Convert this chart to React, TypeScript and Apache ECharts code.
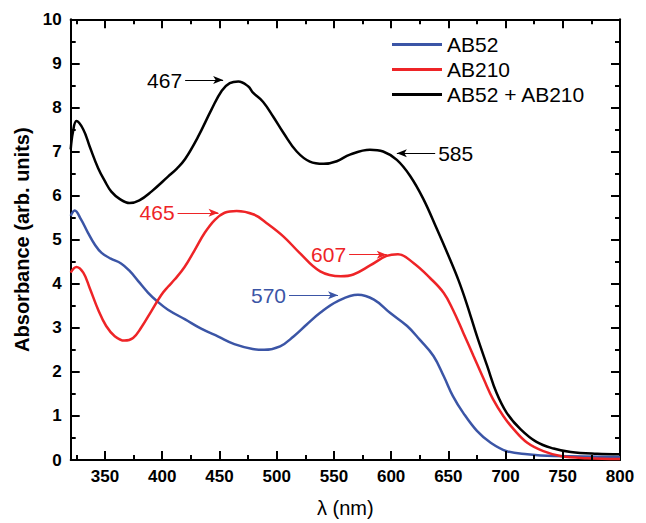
import React, { useEffect, useRef } from "react";
import * as echarts from "echarts";

const seriesNames = ["AB52", "AB210", "AB52 + AB210"];
const seriesColors = ["#3b55a6", "#ee2427", "#000000"];

const blueData: [number, number][] = [
  [320, 5.54], [323.5, 5.66], [329, 5.46], [335, 5.16], [341, 4.89], [347, 4.7], [355, 4.57],
  [364, 4.46], [371.5, 4.29], [379, 4.06], [387.5, 3.8], [396, 3.59], [405, 3.41], [420, 3.19],
  [434, 2.98], [449, 2.8], [463, 2.63], [479, 2.52], [489, 2.5], [503, 2.58], [515, 2.81],
  [526, 3.07], [538, 3.34], [553, 3.6], [571, 3.75], [585, 3.64], [599, 3.34], [614, 3.04],
  [625, 2.73], [637, 2.36], [646, 1.9], [654, 1.45], [663, 1.07], [675, 0.66], [687, 0.39],
  [701, 0.2], [719, 0.13], [742, 0.09], [800, 0.07],
];

const redData: [number, number][] = [
  [320, 4.25], [325, 4.38], [331, 4.25], [336.5, 3.91], [344, 3.41], [351, 3.04], [358.5, 2.81],
  [367, 2.71], [374.5, 2.77], [381.5, 3.0], [390.5, 3.38], [399, 3.74], [405, 3.93], [411, 4.1],
  [419.5, 4.38], [428.5, 4.77], [437, 5.15], [446, 5.45], [454.5, 5.61], [465, 5.65], [480, 5.57],
  [491, 5.38], [506, 5.07], [520, 4.7], [538, 4.28], [556, 4.17], [567, 4.21], [582, 4.42],
  [596, 4.63], [606, 4.67], [619.5, 4.47], [634, 4.13], [646, 3.79], [654, 3.41], [663, 2.89],
  [672, 2.36], [681, 1.83], [689, 1.38], [698, 1.0], [707, 0.7], [719, 0.39], [733, 0.2],
  [748, 0.09], [771, 0.04], [800, 0.02],
];

const blackData: [number, number][] = [
  [320, 7.05], [322, 7.45], [325, 7.69], [331, 7.5], [336.5, 7.12], [344, 6.62], [350, 6.32],
  [355.5, 6.09], [363, 5.92], [371.5, 5.83], [380, 5.89], [390.5, 6.09], [405, 6.43], [413, 6.62],
  [420, 6.83], [431, 7.32], [443, 7.95], [452, 8.38], [459, 8.55], [466.5, 8.59], [475, 8.48],
  [479.5, 8.33], [488, 8.13], [497, 7.79], [506, 7.42], [517.5, 7.0], [529, 6.77], [541, 6.72],
  [552.5, 6.78], [564, 6.93], [581.5, 7.04], [593, 7.0], [605, 6.81], [616.5, 6.45], [628, 5.93],
  [640, 5.24], [651.5, 4.55], [659, 4.07], [666, 3.55], [675, 2.81], [684, 2.13], [692, 1.53],
  [701, 1.07], [713, 0.7], [727, 0.41], [742, 0.26], [757, 0.18], [780, 0.14], [800, 0.13],
];

const xMin = 320;
const xMax = 800;
const yMin = 0;
const yMax = 10;
const xMajorTicks = [350, 400, 450, 500, 550, 600, 650, 700, 750];
const xMinorTicks = [325, 375, 425, 475, 525, 575, 625, 675, 725, 775];
const yMajorTicks = [1, 2, 3, 4, 5, 6, 7, 8, 9];
const yMinorTicks = [0.5, 1.5, 2.5, 3.5, 4.5, 5.5, 6.5, 7.5, 8.5, 9.5];
const xLabelValues = [350, 400, 450, 500, 550, 600, 650, 700, 750, 800];

// annotations: series index, text, tail x, tip x, y
const annoSeries = [2, 2, 1, 1, 0];
const annoText = ["467", "585", "465", "607", "570"];
const annoTailX = [420, 638.5, 413.4, 563.3, 510.8];
const annoTipX = [453.2, 605, 449.2, 596.2, 553.6];
const annoY = [8.62, 6.96, 5.61, 4.66, 3.74];

const FONT = "'Liberation Sans', Arial, Helvetica, sans-serif";
const W = 646;
const H = 523;
const GRID = { left: 70.7, right: 26, top: 19.3, bottom: 62.3 };
const MAJOR_LEN = 9;
const MINOR_LEN = 5;

export default function App() {
  const ref = useRef<HTMLDivElement>(null);
  useEffect(() => {
    if (!ref.current) return;
    const chart = echarts.init(ref.current, undefined, { renderer: "svg" });
    const datas = [blueData, redData, blackData];

    // pixel length -> data length
    const pxPerX = (W - GRID.left - GRID.right) / (xMax - xMin);
    const pxPerY = (H - GRID.top - GRID.bottom) / (yMax - yMin);
    const tickLine = { color: "#000", width: 2, type: "solid" };
    const endNone = { symbol: "none", label: { show: false }, lineStyle: tickLine };
    const tickData: any[] = [];
    const addX = (vals: number[], len: number) => {
      const dy = len / pxPerY;
      vals.forEach((v) => {
        tickData.push([{ coord: [v, yMin], ...endNone }, { coord: [v, yMin + dy], symbol: "none" }]);
        tickData.push([{ coord: [v, yMax], ...endNone }, { coord: [v, yMax - dy], symbol: "none" }]);
      });
    };
    const addY = (vals: number[], len: number) => {
      const dx = len / pxPerX;
      vals.forEach((v) => {
        tickData.push([{ coord: [xMin, v], ...endNone }, { coord: [xMin + dx, v], symbol: "none" }]);
        tickData.push([{ coord: [xMax, v], ...endNone }, { coord: [xMax - dx, v], symbol: "none" }]);
      });
    };
    addX(xMajorTicks, MAJOR_LEN);
    addX(xMinorTicks, MINOR_LEN);
    addY(yMajorTicks, MAJOR_LEN);
    addY(yMinorTicks, MINOR_LEN);

    const xAxes = [
      {
        type: "value",
        min: xMin,
        max: xMax,
        position: "bottom",
        splitLine: { show: false },
        name: "λ (nm)",
        nameLocation: "middle",
        nameGap: 38,
        nameTextStyle: { fontFamily: FONT, fontSize: 20, color: "#000" },
        axisLine: { show: true, onZero: false, lineStyle: { color: "#000", width: 2 } },
        axisTick: { show: false },
        axisLabel: { show: true, customValues: xLabelValues, margin: 8, fontFamily: FONT, fontWeight: "bold", fontSize: 17, color: "#000" },
      },
      {
        type: "value",
        min: xMin,
        max: xMax,
        position: "top",
        splitLine: { show: false },
        axisLine: { show: true, onZero: false, lineStyle: { color: "#000", width: 2 } },
        axisTick: { show: false },
        axisLabel: { show: false },
      },
    ];

    const yAxes = [
      {
        type: "value",
        min: yMin,
        max: yMax,
        interval: 1,
        position: "left",
        splitLine: { show: false },
        name: "Absorbance (arb. units)",
        nameLocation: "middle",
        nameGap: 36,
        nameTextStyle: { fontFamily: FONT, fontSize: 20, fontWeight: "bold", color: "#000" },
        axisLine: { show: true, onZero: false, lineStyle: { color: "#000", width: 2 } },
        axisTick: { show: false },
        axisLabel: { show: true, margin: 9, fontFamily: FONT, fontWeight: "bold", fontSize: 17, color: "#000" },
      },
      {
        type: "value",
        min: yMin,
        max: yMax,
        interval: 1,
        position: "right",
        splitLine: { show: false },
        axisLine: { show: true, onZero: false, lineStyle: { color: "#000", width: 2 } },
        axisTick: { show: false },
        axisLabel: { show: false },
      },
    ];

    const series: any[] = datas.map((d, i) => {
      const markData: any[] = [];
      annoSeries.forEach((s, k) => {
        if (s !== i) return;
        markData.push([
          {
            coord: [annoTailX[k], annoY[k]],
            label: {
              show: true,
              position: "start",
              formatter: annoText[k],
              distance: 3,
              color: seriesColors[i],
              fontFamily: FONT,
              fontSize: 21,
            },
          },
          { coord: [annoTipX[k], annoY[k]] },
        ]);
      });
      if (i === 2) markData.push(...tickData);
      return {
        name: seriesNames[i],
        type: "line",
        xAxisIndex: 0,
        yAxisIndex: 0,
        data: d,
        smooth: 0.4,
        symbol: "none",
        showSymbol: false,
        clip: false,
        lineStyle: { color: seriesColors[i], width: 2.5 },
        itemStyle: { color: seriesColors[i] },
        z: 3 + i,
        markLine: {
          silent: true,
          symbol: ["none", "arrow"],
          symbolSize: [6, 10],
          precision: 4,
          lineStyle: { color: seriesColors[i], width: 1, type: "solid" },
          emphasis: { disabled: true },
          data: markData,
        },
      };
    });

    chart.setOption({
      animation: false,
      backgroundColor: "#fff",
      grid: { ...GRID, containLabel: false },
      legend: {
        orient: "vertical",
        left: 387,
        top: 29,
        itemWidth: 50,
        itemHeight: 20,
        itemGap: 4,
        icon: "path://M0,0 L50,0 L50,3 L0,3 Z",
        data: seriesNames.map((n, i) => ({ name: n, itemStyle: { color: seriesColors[i] } })),
        textStyle: { fontFamily: FONT, fontSize: 21, color: "#000", lineHeight: 20 },
        itemStyle: { borderWidth: 0 },
      },
      xAxis: xAxes,
      yAxis: yAxes,
      series,
    } as any);
    return () => chart.dispose();
  }, []);
  return (
    <div
      ref={ref}
      style={{ position: "absolute", left: 0, top: 0, width: W, height: H }}
    />
  );
}
